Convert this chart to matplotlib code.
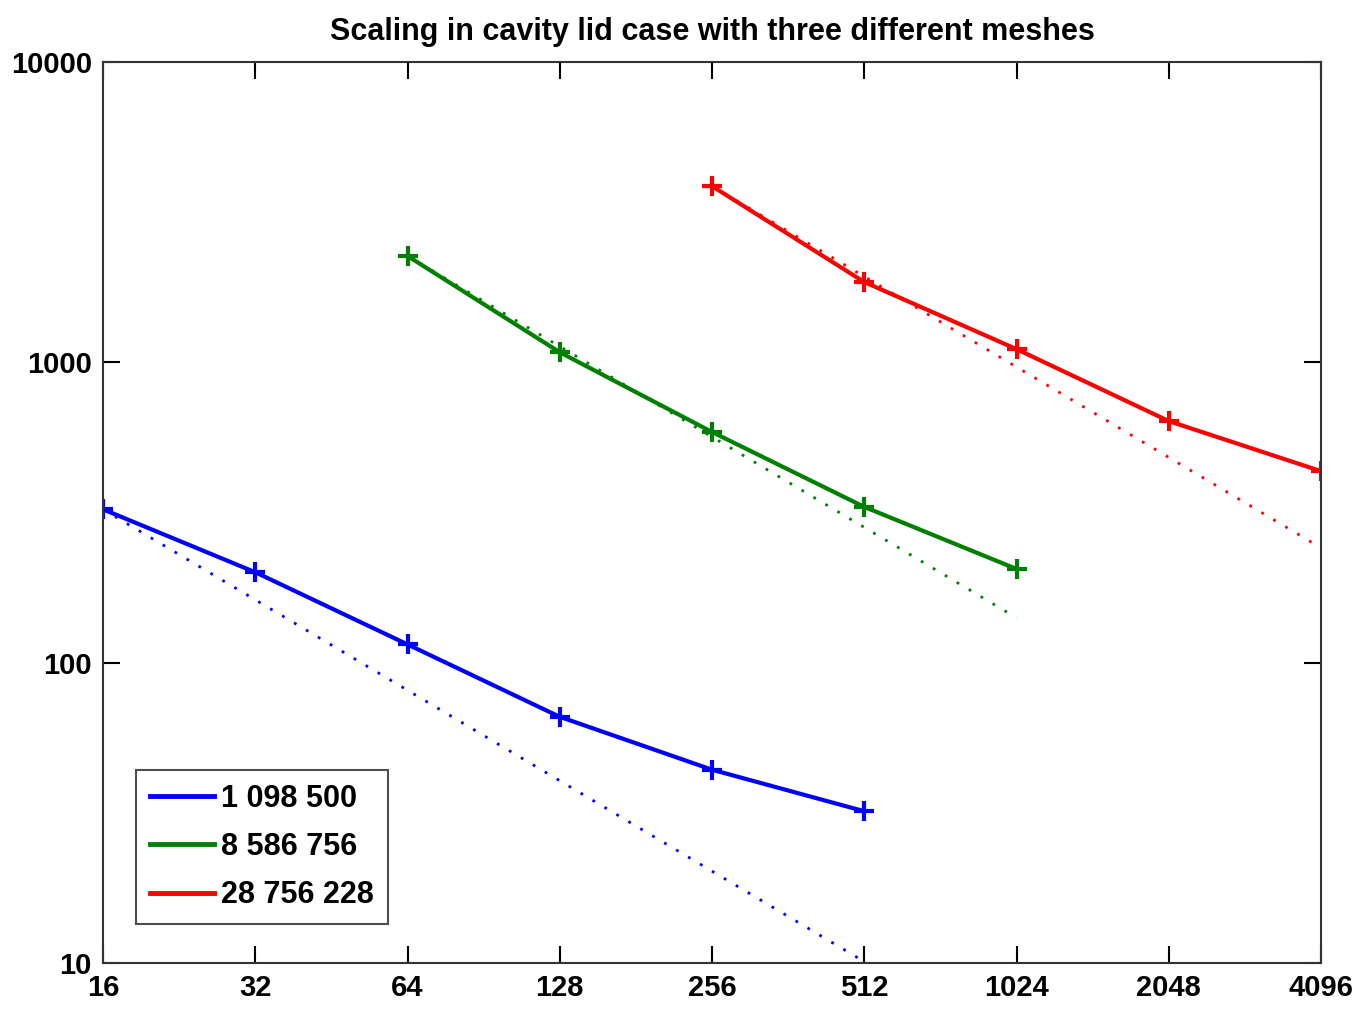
import matplotlib
matplotlib.use("Agg")
import matplotlib.pyplot as plt
from matplotlib.ticker import FixedLocator, FixedFormatter, NullLocator
from matplotlib.lines import Line2D

# Data
x_blue = [16, 32, 64, 128, 256, 512]
y_blue = [324, 200, 115, 66, 44, 32]
x_green = [64, 128, 256, 512, 1024]
y_green = [2260, 1080, 586, 330, 205]
x_red = [256, 512, 1024, 2048, 4096]
y_red = [3860, 1850, 1106, 637, 434]

# ideal (linear scaling) lines, endpoints
ideal_blue_x = [16, 512]
ideal_blue_y = [324, 10.1]
ideal_green_x = [64, 1024]
ideal_green_y = [2260, 141]
ideal_red_x = [256, 4096]
ideal_red_y = [3860, 241]

labels = ["1 098 500", "8 586 756", "28 756 228"]
xticks = [16, 32, 64, 128, 256, 512, 1024, 2048, 4096]
yticks = [10, 100, 1000, 10000]
title = "Scaling in cavity lid case with three different meshes"

plt.rcParams['font.family'] = ['Liberation Sans', 'DejaVu Sans']
plt.rcParams['font.weight'] = 'bold'

fig = plt.figure(figsize=(13.55, 10.13), dpi=100)
ax = fig.add_axes([0.076, 0.0494, 0.899, 0.8894])

cols = [(0, 0, 1), (0, 0.5, 0), (1, 0, 0)]
series = [(x_blue, y_blue, ideal_blue_x, ideal_blue_y),
          (x_green, y_green, ideal_green_x, ideal_green_y),
          (x_red, y_red, ideal_red_x, ideal_red_y)]
for (xs, ys, ix, iy), c, lab in zip(series, cols, labels):
    ax.plot(ix, iy, linestyle=(0, (1, 4)), color=c, lw=2)
    ax.plot(xs, ys, '-', color=c, lw=3, marker='+', ms=14, mew=3, label=lab)

ax.set_xscale('log', base=2)
ax.set_yscale('log')
ax.set_xlim(16, 4096)
ax.set_ylim(10, 10000)
ax.xaxis.set_major_locator(FixedLocator(xticks))
ax.xaxis.set_major_formatter(FixedFormatter([str(v) for v in xticks]))
ax.xaxis.set_minor_locator(NullLocator())
ax.yaxis.set_major_locator(FixedLocator(yticks))
ax.yaxis.set_major_formatter(FixedFormatter([str(v) for v in yticks]))
ax.yaxis.set_minor_locator(NullLocator())
ax.tick_params(which='major', direction='in', length=12, width=1.5, top=True, right=True,
               labelsize=21, pad=8)
for s in ax.spines.values():
    s.set_linewidth(1.5)
    s.set_color('#333333')

ax.set_title(title, fontsize=22, pad=16, fontweight='bold')

leg_handles = [Line2D([0], [0], color=c, lw=3.5) for c in cols]
leg = ax.legend(leg_handles, labels, loc='lower left', bbox_to_anchor=(0.027, 0.043),
                fontsize=22, frameon=True, fancybox=False, edgecolor='#222222',
                handlelength=2.1, handletextpad=0.25, borderpad=0.45, labelspacing=0.6,
                borderaxespad=0)
leg.get_frame().set_linewidth(1.5)

fig.savefig('out.png', dpi=100, facecolor='white')
